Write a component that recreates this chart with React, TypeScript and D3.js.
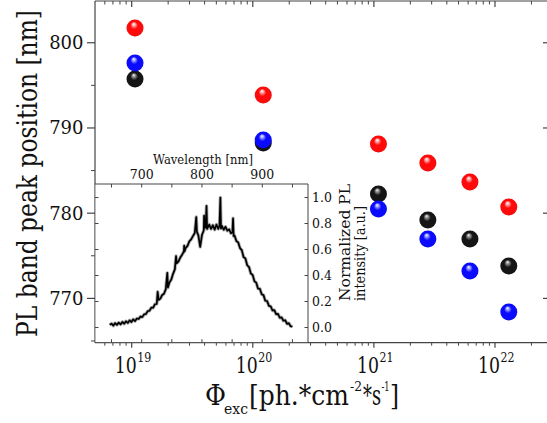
import React from "react";
import * as d3 from "d3";

// ---- data ----
const flux = [1.065e19, 1.22e20, 1.09e21, 2.79e21, 6.21e21, 1.3e22];
const redPeak = [801.73, 793.86, 788.11, 785.88, 783.65, 780.72];
const blackPeak = [795.74, 788.23, 782.24, 779.19, 776.96, 773.79];
const bluePeak = [797.62, 788.58, 780.48, 776.96, 773.21, 768.39];

const yTickValues = [770, 780, 790, 800];
const yMinorValues = [765, 775, 785, 795];
const xTickExponents = [19, 20, 21, 22];

const insetXTickLabels = [700, 800, 900];
const insetXTickValues = [650, 700, 750, 800, 850, 900, 950];
const insetYTickValues = [0, 0.2, 0.4, 0.6, 0.8, 1.0];

// PL spectrum: wavelength (nm), normalized intensity
const specWl = [
  647, 650, 653, 656, 659, 662, 665, 668, 671, 674, 677, 680, 683, 686, 689, 692, 695, 698,
  701, 704, 707, 710, 713, 716, 719, 722, 725, 726.5, 728, 731, 734, 737, 740, 742.5, 743.5,
  746, 749, 752, 755, 757, 758, 761, 764, 767, 770, 770.5, 771, 773, 776, 779, 782, 785, 788,
  790.5, 791.5, 794, 797, 800, 803, 803.5, 804.5, 806, 807.5, 808.5, 812, 815, 818, 821, 824,
  827, 829, 830.5, 831.5, 833, 836, 839, 842, 845, 848, 850.5, 851.5, 852.5, 854, 857, 860,
  863, 866, 869, 872, 875, 878, 881, 884, 887, 890, 893, 896, 899, 902, 905, 908, 911, 914,
  917, 920, 923, 926, 929, 932, 935, 938, 941, 944, 947, 950,
];
const specInt = [
  0.02, 0.03, 0.014, 0.034, 0.02, 0.038, 0.024, 0.043, 0.029, 0.048, 0.035, 0.055, 0.042,
  0.063, 0.049, 0.069, 0.066, 0.085, 0.08, 0.101, 0.104, 0.126, 0.129, 0.153, 0.152, 0.179,
  0.181, 0.275, 0.212, 0.222, 0.25, 0.26, 0.295, 0.42, 0.308, 0.346, 0.368, 0.413, 0.447,
  0.55, 0.494, 0.508, 0.538, 0.56, 0.586, 0.63, 0.584, 0.612, 0.628, 0.663, 0.678, 0.703, 0.727,
  0.85, 0.738, 0.708, 0.62, 0.712, 0.748, 0.86, 0.772, 0.768, 0.935, 0.758, 0.792, 0.758, 0.787,
  0.753, 0.792, 0.758, 0.782, 1.0, 0.762, 0.782, 0.752, 0.775, 0.745, 0.755, 0.725, 0.732, 0.84,
  0.703, 0.707, 0.665, 0.655, 0.611, 0.595, 0.541, 0.531, 0.479, 0.465, 0.415, 0.405, 0.355,
  0.345, 0.299, 0.298, 0.256, 0.249, 0.206, 0.204, 0.166, 0.163, 0.131, 0.133, 0.102, 0.105,
  0.075, 0.078, 0.052, 0.056, 0.028, 0.033, 0.01, 0.006,
];

// ---- layout ----
const W = 547;
const H = 423;
const left = 95;
const right = 549;
const top = 1;
const bottom = 342.7;
const insetRight = 308;
const insetTop = 184;

const FONT = "'DejaVu Serif', serif";

export default function App() {
  const x = d3.scaleLog().domain([Math.pow(10, 18.697), Math.pow(10, 22.446)]).range([left, right]);
  const y = d3.scaleLinear().domain([764.8, 804.9]).range([bottom, top]);
  const xi = d3.scaleLinear().domain([622.6, 975.8]).range([left, insetRight]);
  const yi = d3.scaleLinear().domain([-0.117, 1.104]).range([bottom, insetTop]);

  // log minor ticks
  const minorX: number[] = [];
  for (let e = 18; e <= 22; e++) {
    for (let m = 2; m <= 9; m++) {
      const v = m * Math.pow(10, e);
      const px = x(v);
      if (px > left + 0.5 && px < right - 0.5) minorX.push(px);
    }
  }

  const line = d3
    .line<number>()
    .x((_, i) => xi(specWl[i]))
    .y((d) => yi(d));

  const series = [
    { key: "black", values: blackPeak, c0: "#a0a0a0", c1: "#151515", c2: "#000000" },
    { key: "blue", values: bluePeak, c0: "#a8b0ff", c1: "#0a0aff", c2: "#0000a8" },
    { key: "red", values: redPeak, c0: "#ffb8b8", c1: "#ff0a0a", c2: "#b80000" },
  ];

  const axisColor = "#444";

  return (
    <svg
      width={W}
      height={H}
      style={{ position: "absolute", left: 0, top: 0, background: "#fff" }}
      fontFamily={FONT}
    >
      <defs>
        {series.map((s) => (
          <radialGradient key={s.key} id={`g-${s.key}`} cx="50%" cy="50%" r="55%" fx="42%" fy="25%">
            <stop offset="0%" stopColor="#ffffff" />
            <stop offset="14%" stopColor={s.c0} />
            <stop offset="40%" stopColor={s.c1} />
            <stop offset="85%" stopColor={s.c1} />
            <stop offset="100%" stopColor={s.c2} />
          </radialGradient>
        ))}
      </defs>
      <rect x={0} y={0} width={W} height={H} fill="#fff" />

      {/* main frame */}
      <line x1={left} x2={right} y1={top} y2={top} stroke={axisColor} strokeWidth={1.2} />
      <line x1={left} x2={right} y1={bottom} y2={bottom} stroke={axisColor} strokeWidth={1.2} />
      <line x1={left} x2={left} y1={top} y2={bottom} stroke={axisColor} strokeWidth={1.2} />
      <line x1={right} x2={right} y1={top} y2={bottom} stroke={axisColor} strokeWidth={1.2} />

      {/* x major ticks */}
      {xTickExponents.map((e) => {
        const px = x(Math.pow(10, e));
        return (
          <g key={`xt${e}`}>
            <line x1={px} x2={px} y1={bottom} y2={bottom + 5} stroke={axisColor} strokeWidth={1.2} />
            <line x1={px} x2={px} y1={top} y2={top + 6} stroke={axisColor} strokeWidth={1.2} />
            <text x={px - 17} y={373} fontSize={23} fill="#111" textLength={22} lengthAdjust="spacingAndGlyphs">
              10
            </text>
            <text x={px + 5.5} y={362} fontSize={13} fill="#111" textLength={14} lengthAdjust="spacingAndGlyphs">
              {e}
            </text>
          </g>
        );
      })}
      {minorX.map((px, i) => (
        <g key={`xm${i}`}>
          <line x1={px} x2={px} y1={bottom} y2={bottom + 3} stroke={axisColor} strokeWidth={1} />
          <line x1={px} x2={px} y1={top} y2={top + 3.5} stroke={axisColor} strokeWidth={1} />
        </g>
      ))}

      {/* y ticks */}
      {yTickValues.map((v) => (
        <g key={`yt${v}`}>
          <line x1={left - 8} x2={left} y1={y(v)} y2={y(v)} stroke={axisColor} strokeWidth={1.2} />
          <line x1={right - 6} x2={right} y1={y(v)} y2={y(v)} stroke={axisColor} strokeWidth={1.2} />
          <text x={83.5} y={y(v) + 6.5} fontSize={18} textAnchor="end" fill="#111">
            {v}
          </text>
        </g>
      ))}
      {yMinorValues.map((v) => (
        <line key={`ym${v}`} x1={left - 4} x2={left} y1={y(v)} y2={y(v)} stroke={axisColor} strokeWidth={1} />
      ))}

      {/* axis titles */}
      <text
        transform="translate(37,337) rotate(-90)"
        fontSize={28}
        fill="#111"
        textLength={327}
        lengthAdjust="spacingAndGlyphs"
      >
        PL band peak position [nm]
      </text>

      <g fill="#111">
        <text x={205} y={405} fontSize={27} textLength={21} lengthAdjust="spacingAndGlyphs">Φ</text>
        <text x={224} y={414} fontSize={15} textLength={24} lengthAdjust="spacingAndGlyphs">exc</text>
        <text x={249} y={405} fontSize={27} textLength={100} lengthAdjust="spacingAndGlyphs">[ph.*cm</text>
        <text x={350} y={391} fontSize={13} textLength={12} lengthAdjust="spacingAndGlyphs">-2</text>
        <text x={363} y={405} fontSize={27} textLength={18} lengthAdjust="spacingAndGlyphs">*s</text>
        <text x={381.5} y={391} fontSize={13} textLength={8} lengthAdjust="spacingAndGlyphs">-1</text>
        <text x={390} y={405} fontSize={27} textLength={9} lengthAdjust="spacingAndGlyphs">]</text>
      </g>

      {/* markers */}
      {series.map((s) =>
        s.values.map((v, i) => (
          <circle key={`${s.key}${i}`} cx={x(flux[i])} cy={y(v)} r={8.5} fill={`url(#g-${s.key})`} />
        ))
      )}

      {/* inset */}
      <rect x={left + 0.6} y={insetTop} width={insetRight - left - 0.6} height={bottom - insetTop - 0.6} fill="#fff" />
      <line x1={left} x2={insetRight} y1={insetTop} y2={insetTop} stroke={axisColor} strokeWidth={1} />
      <line x1={insetRight} x2={insetRight} y1={insetTop} y2={bottom} stroke={axisColor} strokeWidth={1} />
      {insetXTickValues.map((v) => (
        <g key={`ixt${v}`}>
          <line x1={xi(v)} x2={xi(v)} y1={insetTop} y2={insetTop + 3.5} stroke={axisColor} strokeWidth={1} />
          <line x1={xi(v)} x2={xi(v)} y1={bottom} y2={bottom - 3.5} stroke={axisColor} strokeWidth={1} />
        </g>
      ))}
      {insetXTickLabels.map((v) => (
        <text key={`ixl${v}`} x={xi(v)} y={178.5} fontSize={12.5} textAnchor="middle" fill="#111">
          {v}
        </text>
      ))}
      <text x={203} y={164} fontSize={13} textAnchor="middle" fill="#111" textLength={100} lengthAdjust="spacingAndGlyphs">
        Wavelength [nm]
      </text>
      {insetYTickValues.map((v) => (
        <g key={`iyt${v}`}>
          <line x1={left} x2={left + 3.5} y1={yi(v)} y2={yi(v)} stroke={axisColor} strokeWidth={1} />
          <line x1={insetRight} x2={insetRight - 3.5} y1={yi(v)} y2={yi(v)} stroke={axisColor} strokeWidth={1} />
          <text x={312} y={yi(v) + 4.7} fontSize={12.5} fill="#111">
            {v.toFixed(1)}
          </text>
        </g>
      ))}
      <text
        transform="translate(349.5,301) rotate(-90)"
        fontSize={14}
        fill="#111"
        textLength={117}
        lengthAdjust="spacingAndGlyphs"
      >
        Normalized PL
      </text>
      <text
        transform="translate(364.5,301) rotate(-90)"
        fontSize={14}
        fill="#111"
        textLength={95}
        lengthAdjust="spacingAndGlyphs"
      >
        intensity [a.u.]
      </text>

      <path d={line(specInt) || ""} fill="none" stroke="#666" strokeOpacity={0.55} strokeWidth={3.4} strokeLinejoin="round" />
      <path d={line(specInt) || ""} fill="none" stroke="#000" strokeWidth={1.7} strokeLinejoin="round" />
    </svg>
  );
}
